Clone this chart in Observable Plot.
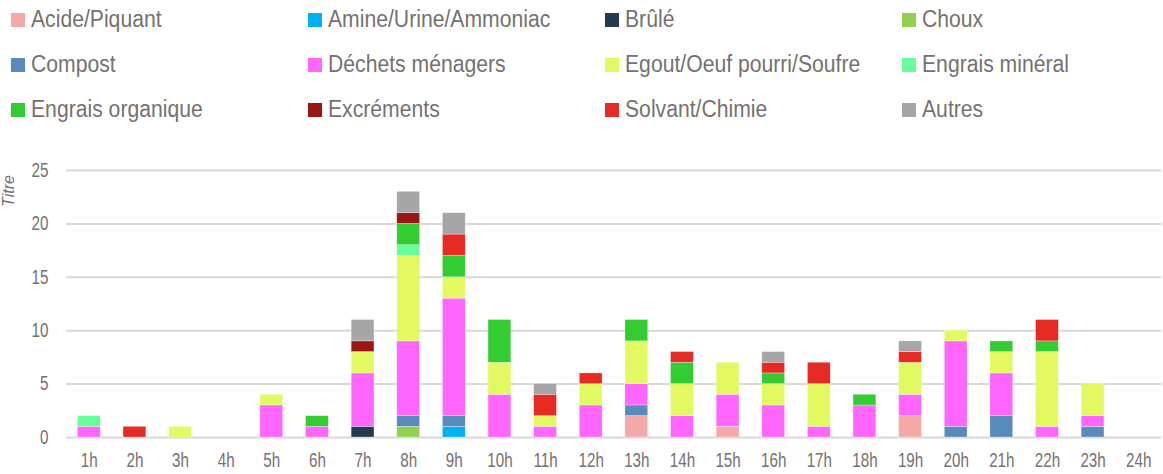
<!DOCTYPE html>
<html>
<head>
<meta charset="utf-8">
<script src="https://cdn.jsdelivr.net/npm/d3@7"></script>
<script src="https://cdn.jsdelivr.net/npm/@observablehq/plot@0.6"></script>
<style>
  body { margin: 0; background: #fff; }
  #wrap { position: relative; width: 1163px; height: 474px; overflow: hidden;
          font-family: 'Liberation Sans', Arial, sans-serif; color: #767171; }
  .sw { position: absolute; width: 14px; height: 14px; }
  .lt { position: absolute; font-size: 23px; line-height: 23px; white-space: nowrap;
        transform: scaleX(0.92); transform-origin: left center; }
  #chart { position: absolute; left: 0; top: 135px; }
  #ytitle { position: absolute; left: 9px; top: 191px; font-size: 17px; font-style: italic; z-index: 2;
            transform: translate(-50%, -50%) rotate(-90deg) scaleX(0.94); white-space: nowrap; }
</style>
</head>
<body>
<div id="wrap">
  <div id="legend"></div>
  <div id="chart"></div>
  <div id="ytitle">Titre</div>
</div>
<script>
const hours = ["1h","2h","3h","4h","5h","6h","7h","8h","9h","10h","11h","12h","13h","14h","15h","16h","17h","18h","19h","20h","21h","22h","23h","24h"];
const categories = ["Acide/Piquant","Amine/Urine/Ammoniac","Brûlé","Choux","Compost","Déchets ménagers","Egout/Oeuf pourri/Soufre","Engrais minéral","Engrais organique","Excréments","Solvant/Chimie","Autres"];
const colors = ["#F4A9A8","#00B0F0","#243A52","#92D050","#588BBA","#FF66FF","#E3F962","#66FF99","#33CC33","#9C1515","#E62A24","#A6A6A6"];
const yTicks = [0,5,10,15,20,25];

//                       1 2 3 4 5 6 7 8 9 10 11 12 13 14 15 16 17 18 19 20 21 22 23 24
const acide            = [0,0,0,0,0,0,0,0,0, 0, 0, 0, 2, 0, 1, 0, 0, 0, 2, 0, 0, 0, 0, 0];
const amine            = [0,0,0,0,0,0,0,0,1, 0, 0, 0, 0, 0, 0, 0, 0, 0, 0, 0, 0, 0, 0, 0];
const brule            = [0,0,0,0,0,0,1,0,0, 0, 0, 0, 0, 0, 0, 0, 0, 0, 0, 0, 0, 0, 0, 0];
const choux            = [0,0,0,0,0,0,0,1,0, 0, 0, 0, 0, 0, 0, 0, 0, 0, 0, 0, 0, 0, 0, 0];
const compost          = [0,0,0,0,0,0,0,1,1, 0, 0, 0, 1, 0, 0, 0, 0, 0, 0, 1, 2, 0, 1, 0];
const dechets          = [1,0,0,0,3,1,5,7,11,4, 1, 3, 2, 2, 3, 3, 1, 3, 2, 8, 4, 1, 1, 0];
const egout            = [0,0,1,0,1,0,2,8,2, 3, 1, 2, 4, 3, 3, 2, 4, 0, 3, 1, 2, 7, 3, 0];
const engraisMineral   = [1,0,0,0,0,0,0,1,0, 0, 0, 0, 0, 0, 0, 0, 0, 0, 0, 0, 0, 0, 0, 0];
const engraisOrganique = [0,0,0,0,0,1,0,2,2, 4, 0, 0, 2, 2, 0, 1, 0, 1, 0, 0, 1, 1, 0, 0];
const excrements       = [0,0,0,0,0,0,1,1,0, 0, 0, 0, 0, 0, 0, 0, 0, 0, 0, 0, 0, 0, 0, 0];
const solvant          = [0,1,0,0,0,0,0,0,2, 0, 2, 1, 0, 1, 0, 1, 2, 0, 1, 0, 0, 2, 0, 0];
const autres           = [0,0,0,0,0,0,2,2,2, 0, 1, 0, 0, 0, 0, 1, 0, 0, 1, 0, 0, 0, 0, 0];

const series = [acide, amine, brule, choux, compost, dechets, egout, engraisMineral, engraisOrganique, excrements, solvant, autres];

const data = [];
hours.forEach((h, i) => {
  categories.forEach((c, j) => {
    data.push({hour: h, cat: c, value: series[j][i]});
  });
});

// Legend (4 columns x 3 rows)
const colX = [11, 308, 605, 902];
const rowY = [20, 65, 110];
const legend = document.getElementById("legend");
categories.forEach((c, i) => {
  const x = colX[i % 4], y = rowY[Math.floor(i / 4)];
  const sw = document.createElement("div");
  sw.className = "sw";
  sw.style.left = x + "px";
  sw.style.top = (y - 7) + "px";
  sw.style.background = colors[i];
  legend.appendChild(sw);
  const t = document.createElement("div");
  t.className = "lt";
  t.style.left = (x + 20) + "px";
  t.style.top = (y - 12.5) + "px";
  t.textContent = c;
  legend.appendChild(t);
});

const chart = Plot.plot({
  width: 1163,
  height: 339,
  marginLeft: 66,
  marginRight: 2,
  marginTop: 35,
  marginBottom: 37,
  style: {fontFamily: "'Liberation Sans', Arial, sans-serif", fontSize: "19.5px", color: "#767171", background: "#fff"},
  x: {domain: hours, paddingInner: 0.5, paddingOuter: 0.25, round: false, label: null},
  y: {domain: [0, 25], ticks: yTicks, label: null},
  color: {domain: categories, range: colors},
  marks: [
    Plot.ruleY(yTicks, {stroke: "#D9D9D9", strokeWidth: 2}),
    Plot.barY(data.filter(d => d.value > 0), {x: "hour", y: "value", fill: "cat", stroke: "#fff", strokeOpacity: 0.5, strokeWidth: 0.6}),
    Plot.axisX({tickSize: 0, tickPadding: 16, fontSize: 19.5}),
    Plot.axisY({ticks: yTicks, tickSize: 0, tickPadding: 18, fontSize: 19.5})
  ]
});
// condense tick labels horizontally to match the narrow typeface of the original
d3.select(chart).selectAll("g[aria-label$='tick label'] text").each(function() {
  const t = this.getAttribute("transform") || "";
  this.setAttribute("transform", t + " scale(0.78,1)");
});
document.getElementById("chart").appendChild(chart);
</script>
</body>
</html>
